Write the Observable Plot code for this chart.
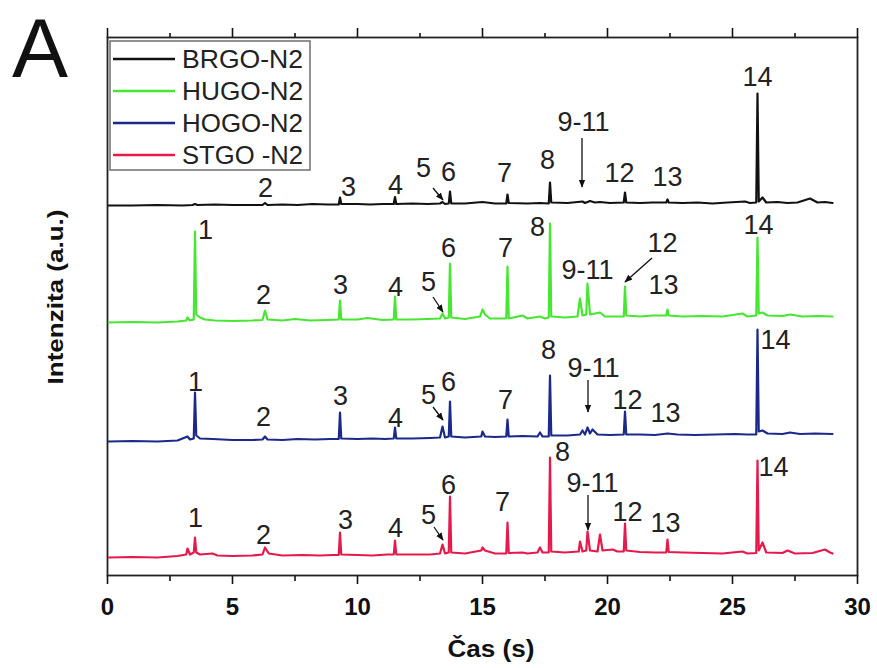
<!DOCTYPE html>
<html><head><meta charset="utf-8">
<script src="https://cdn.jsdelivr.net/npm/d3@7"></script>
<script src="https://cdn.jsdelivr.net/npm/@observablehq/plot@0.6"></script>
<style>body{margin:0;background:#fff} #chart{width:877px;height:668px}</style>
</head><body><div id="chart"></div>
<script>
// ---- data (time in s, intensity in a.u. above each trace's own baseline) ----
const seriesNames = ["BRGO-N2", "HUGO-N2", "HOGO-N2", "STGO -N2"];
const seriesColors = ["#111111", "#46e632", "#1b2a8a", "#e5194c"];
const seriesOffsets = [370, 253, 134, 18];

const brgo = [[0.05,0],[1,0],[2,0.5],[3,0],[3.4,0.5],[3.5,1.5],[3.6,0.5],[4.3,1],[5,0.5],[6.2,0.5],[6.3,2.5],[6.4,0.5],[7,1],[7.6,0.5],[8.2,1.5],[8.8,1],[9.25,1],[9.3,8],[9.35,1.5],[10,1.5],[10.5,1],[11,1.5],[11.45,1.5],[11.5,8.5],[11.55,1.5],[12.2,2],[12.8,1.5],[13.3,2],[13.4,3.5],[13.5,1.5],[13.65,2],[13.7,14],[13.75,2],[14.3,2],[15,3.5],[15.5,2],[15.95,2],[16,11],[16.05,2.5],[16.8,2],[17.3,2.5],[17.65,2],[17.7,23],[17.75,3],[18.4,2.5],[19,4],[19.1,2.5],[19.3,4.5],[19.5,3],[19.7,3.5],[20.1,2.5],[20.65,3],[20.7,13],[20.75,3],[21.3,2.5],[21.8,3],[22.35,3],[22.4,6],[22.45,3],[23,2.5],[23.6,3],[24.2,2],[24.8,3],[25.5,4],[25.7,2.5],[25.95,3],[26,112],[26.05,4],[26.2,8],[26.35,3],[26.8,3.5],[27.2,2.5],[27.6,3],[28.1,7],[28.4,3],[28.7,3.5],[29,2.5]];

const hugo = [[0.05,0],[1,0.5],[2,0],[2.8,1],[3.15,2],[3.2,5],[3.3,2],[3.45,3],[3.5,91],[3.55,8],[3.7,5],[3.9,3],[4.3,2],[5,1.5],[5.8,2],[6.2,2.5],[6.3,12],[6.4,3],[7,2],[7.5,3.5],[8.1,2],[8.8,2.5],[9.25,3],[9.3,22],[9.35,3],[10,3],[10.4,4.5],[11,2.5],[11.45,3],[11.5,26],[11.55,3],[12.2,3],[12.8,3.5],[13.3,4],[13.4,9],[13.5,4],[13.65,5],[13.7,59],[13.75,5],[14.3,3.5],[14.9,6],[15.0,13],[15.1,8],[15.3,4],[15.95,4],[16,56],[16.05,4],[16.6,7],[16.8,4],[17.3,6],[17.5,4],[17.65,5],[17.7,99],[17.75,6],[18.3,5],[18.8,6],[18.9,24],[19.0,7],[19.15,8],[19.2,39],[19.3,8],[19.7,10],[19.9,6],[20.3,6],[20.65,6],[20.7,36],[20.75,7],[21.3,6],[21.8,7],[22.35,7],[22.4,13],[22.45,7],[23,6],[23.8,6.5],[24.6,6],[25.4,9],[25.6,6],[25.95,7],[26,85],[26.05,9],[26.2,10],[26.4,7],[27,6.5],[27.3,8],[27.8,6],[28.4,6.5],[29,6]];

const hogo = [[0.05,0],[1,0.5],[2,0],[2.8,1],[3.2,5],[3.3,2],[3.45,3],[3.5,49],[3.55,6],[3.7,3],[4.2,2.5],[5,1.5],[5.8,1.5],[6.2,2],[6.3,5],[6.4,2],[7,1.5],[7.6,2.5],[8.3,2],[8.9,2.5],[9.25,2.5],[9.3,29],[9.35,3],[10,2.5],[10.6,3],[11.1,2.5],[11.45,3],[11.5,14],[11.55,3],[12.2,3],[12.9,3.5],[13.3,4],[13.4,15],[13.5,4],[13.65,5],[13.7,40],[13.75,5],[14.3,4],[14.95,5],[15.0,10],[15.1,5],[15.5,4.5],[15.95,5],[16,22],[16.05,5],[16.6,5.5],[17.2,5],[17.3,9],[17.4,5],[17.65,5],[17.7,66],[17.75,6],[18.4,6],[18.9,7],[19.0,11],[19.1,7],[19.2,14],[19.3,8],[19.4,12],[19.6,7],[20.1,6.5],[20.65,7],[20.7,30],[20.75,7],[21.3,7],[21.9,6.5],[22.4,8],[22.8,7],[23.5,6.5],[24.3,7],[25.1,7.5],[25.6,7],[25.95,7],[26,112],[26.05,10],[26.2,11],[26.4,8],[27,7.5],[27.3,9],[27.7,7.5],[28.3,8],[29,7.5]];

const stgo = [[0.05,0],[1,0.5],[2,0],[2.8,1.5],[3.15,3],[3.2,9],[3.3,3],[3.45,5],[3.5,20],[3.55,5],[3.7,3],[4.2,4],[4.4,2],[5,1.5],[5.8,2],[6.2,3],[6.3,10],[6.45,4],[7,2],[7.8,2.5],[8.5,2],[9.0,2.5],[9.25,2.5],[9.3,25],[9.35,3],[10,2.5],[10.6,2],[11.2,3],[11.45,3],[11.5,17],[11.55,3],[12.2,3],[12.9,3],[13.3,4],[13.4,13],[13.5,4],[13.65,5],[13.7,61],[13.75,5],[14.3,4],[14.95,7],[15.0,10],[15.1,7],[15.5,4],[15.95,4],[16,35],[16.05,4.5],[16.6,5],[16.8,4],[17.2,5],[17.3,10],[17.4,5],[17.65,5],[17.7,100],[17.75,6],[18.3,5],[18.85,6],[18.9,16],[19.0,6],[19.15,7],[19.2,26],[19.3,7],[19.6,6],[19.7,23],[19.8,7],[20.2,8],[20.4,6],[20.65,6],[20.7,34],[20.75,7],[21.3,5.5],[21.9,5],[22.35,5],[22.4,18],[22.45,5.5],[23,5],[23.8,4.5],[24.6,4],[25.4,6],[25.6,4],[25.95,4.5],[26,97],[26.05,7],[26.2,15],[26.35,5],[27,4.5],[27.2,7],[27.5,4],[28.2,4.5],[28.7,8],[28.9,5],[29,4]];

// peak labels: [text, t, y] in data units
const labelsBrgo = [["2",6.32,387],["3",9.64,388],["4",11.52,390],["5",12.64,407],["6",13.64,403],["7",15.88,402],["8",17.6,415],["9-11",19.04,453],["12",20.48,402],["13",22.4,398],["14",26.0,498]];
const labelsHugo = [["1",3.92,345],["2",6.24,280],["3",9.32,290],["4",11.52,288],["5",12.84,293],["6",13.64,327],["7",15.92,327],["8",17.2,348],["9-11",19.2,305],["12",22.2,332],["13",22.24,290],["14",26.04,350]];
const labelsHogo = [["1",3.52,193],["2",6.24,158],["3",9.32,179],["4",11.52,157],["5",12.84,180],["6",13.64,193],["7",15.92,175],["8",17.64,225],["9-11",19.44,207],["12",20.8,175],["13",22.32,162],["14",26.72,235]];
const labelsStgo = [["1",3.52,57],["2",6.24,40],["3",9.52,55],["4",11.52,47],["5",12.84,60],["6",13.64,90],["7",15.8,73],["8",18.2,123],["9-11",19.4,92],["12",20.8,63],["13",22.32,52],["14",26.64,108]];

// annotation arrows: [t1, y1, t2, y2]
const arrows = [[13.04,387,13.44,375],[19.0,437,19.0,388],[13.04,278,13.44,263],[21.8,317,20.72,293],[13.04,168,13.44,155],[19.24,195,19.24,163],[13.08,48,13.44,35],[19.24,80,19.24,45]];

const xMajor = [0, 5, 10, 15, 20, 25, 30];
const xMinor = [2.5, 7.5, 12.5, 17.5, 22.5, 27.5];
const xLabel = "Čas (s)";
const yLabel = "Intenzita (a.u.)";
const panelLetter = "A";

// ---- build tables ----
const traces = [brgo, hugo, hogo, stgo];
const lineData = traces.flatMap((pts, i) => pts.map(([t, v]) => ({series: seriesNames[i], t, y: seriesOffsets[i] + v})));
const labelData = [labelsBrgo, labelsHugo, labelsHogo, labelsStgo].flat().map(([label, t, y]) => ({label, t, y}));

const FONT = "'Liberation Sans', Arial, Helvetica, sans-serif";

const plot = Plot.plot({
  width: 877, height: 668,
  marginLeft: 107, marginRight: 20, marginTop: 37, marginBottom: 93,
  style: {fontFamily: FONT, fontSize: "24px", fontWeight: "bold", color: "#111", background: "#fff", overflow: "visible"},
  x: {domain: [0, 30]},
  y: {domain: [0, 538], axis: null},
  color: {domain: seriesNames, range: seriesColors},
  marks: [
    Plot.axisX({anchor: "bottom", ticks: xMajor, tickSize: 9, tickPadding: 13, strokeWidth: 1.6, label: null, fontSize: 24, fontWeight: "bold"}),
    Plot.axisX({anchor: "bottom", ticks: xMinor, tickSize: 6, strokeWidth: 1.6, tickFormat: () => "", label: null}),
    Plot.axisX({anchor: "top", ticks: xMajor, tickSize: 10, strokeWidth: 1.6, tickFormat: () => "", label: null}),
    Plot.axisX({anchor: "top", ticks: xMinor, tickSize: 5, strokeWidth: 1.6, tickFormat: () => "", label: null}),
    Plot.frame({stroke: "#222", strokeWidth: 1.8}),
    Plot.line(lineData, {x: "t", y: "y", z: "series", stroke: "series", strokeWidth: 2.2, strokeLinejoin: "round"}),
    Plot.text(labelData, {x: "t", y: "y", text: "label", fontSize: 27, fontWeight: "normal", fontFamily: FONT, fill: "#222"})
  ]
});
document.getElementById("chart").append(plot);

const svg = d3.select(plot);
const sx = plot.scale("x"), sy = plot.scale("y");

// arrows
svg.append("defs").append("marker")
  .attr("id", "ahead").attr("viewBox", "0 0 10 10").attr("refX", 9).attr("refY", 5)
  .attr("markerWidth", 8).attr("markerHeight", 9).attr("markerUnits", "userSpaceOnUse")
  .attr("orient", "auto")
  .append("path").attr("d", "M0,1 L10,5 L0,9 Z").attr("fill", "#111");
svg.append("g").selectAll("line").data(arrows).join("line")
  .attr("x1", d => sx.apply(d[0])).attr("y1", d => sy.apply(d[1]))
  .attr("x2", d => sx.apply(d[2])).attr("y2", d => sy.apply(d[3]))
  .attr("stroke", "#111").attr("stroke-width", 1.3).attr("marker-end", "url(#ahead)");

// legend
const lg = svg.append("g").attr("font-family", FONT).attr("font-weight", "normal").attr("text-anchor", "start");
lg.append("rect").attr("x", 110).attr("y", 41).attr("width", 200).attr("height", 129)
  .attr("fill", "#fff").attr("stroke", "#777").attr("stroke-width", 1.6);
const rowY = [59, 91, 123, 155];
seriesNames.forEach((name, i) => {
  lg.append("line").attr("x1", 113).attr("x2", 175).attr("y1", rowY[i]).attr("y2", rowY[i])
    .attr("stroke", seriesColors[i]).attr("stroke-width", 2.5);
  lg.append("text").attr("x", 182).attr("y", rowY[i] + 9).attr("font-size", 25).attr("fill", "#222")
    .attr("textLength", 121).attr("lengthAdjust", "spacingAndGlyphs").text(name);
});

// axis titles and panel letter
svg.append("text").attr("x", 491).attr("y", 657).attr("text-anchor", "middle")
  .attr("font-family", FONT).attr("font-weight", "bold").attr("font-size", 23)
  .attr("textLength", 87).attr("lengthAdjust", "spacingAndGlyphs").attr("fill", "#111").text(xLabel);
svg.append("text").attr("transform", "translate(63,297) rotate(-90)").attr("text-anchor", "middle")
  .attr("font-family", FONT).attr("font-weight", "bold").attr("font-size", 22)
  .attr("textLength", 175).attr("lengthAdjust", "spacingAndGlyphs").attr("fill", "#111").text(yLabel);
svg.append("text").attr("x", 12).attr("y", 77).attr("text-anchor", "start").attr("font-family", FONT).attr("font-weight", "normal")
  .attr("font-size", 84).attr("fill", "#111").text(panelLetter);
</script></body></html>
